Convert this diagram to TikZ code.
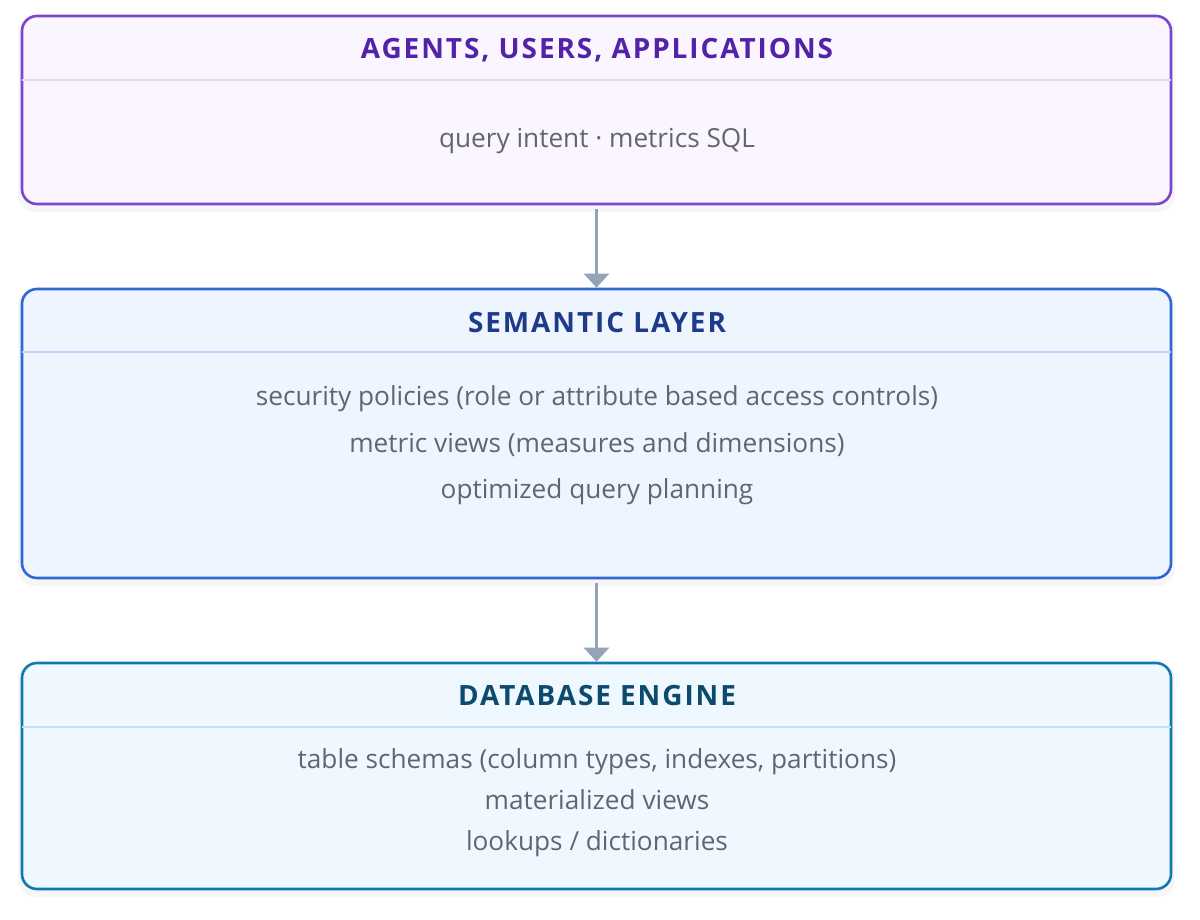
\documentclass[tikz,border=0pt]{standalone}
\usepackage{fontspec}
\setmainfont{Open Sans}
\newfontfamily\titlefont[LetterSpace=7]{Open Sans}
\usetikzlibrary{arrows.meta}
\definecolor{pBorder}{HTML}{7A45CF}
\definecolor{pFill}{HTML}{FAF5FF}
\definecolor{pTitle}{HTML}{5222A8}
\definecolor{pDiv}{HTML}{E6D6F5}
\definecolor{bBorder}{HTML}{2F67D6}
\definecolor{bFill}{HTML}{EEF5FF}
\definecolor{bTitle}{HTML}{1E3A8A}
\definecolor{bDiv}{HTML}{BDD7F5}
\definecolor{sBorder}{HTML}{1279AE}
\definecolor{sFill}{HTML}{F0F8FF}
\definecolor{sTitle}{HTML}{0C4A6E}
\definecolor{sDiv}{HTML}{BCE3F7}
\definecolor{bodyText}{HTML}{5F6673}
\definecolor{arrowCol}{HTML}{94A3B8}
\tikzset{
  layer/.style={draw=#1, line width=2.6pt, rounded corners=15pt, minimum width=1149pt, inner sep=0pt},
  shadowbox/.style={fill=black, opacity=0.035, rounded corners=17pt, minimum width=1157pt, inner sep=0pt, draw=none},
  title/.style={font=\titlefont\bfseries\fontsize{27.9}{32}\selectfont, text=#1, inner sep=0pt, anchor=base},
  body/.style={font=\fontsize{26.2}{31}\selectfont, text=bodyText, inner sep=0pt, anchor=base},
  divider/.style={draw=#1, line width=1.2pt},
  arr/.style={draw=arrowCol, line width=2.6pt, -{Triangle[width=25pt,length=14pt]}, shorten <=4pt}
}
\begin{document}
\begin{tikzpicture}[x=1pt,y=-1pt]
\useasboundingbox (0,0) rectangle (1200,920);
\fill[white] (0,0) rectangle (1200,920);
% shadows
\node[shadowbox, minimum height=196pt] (sh1) at (596.5,114) {};
\node[shadowbox, minimum height=297pt] (sh2) at (596.5,437.5) {};
\node[shadowbox, minimum height=234pt] (sh3) at (596.5,780) {};
% boxes
\node[layer=pBorder, fill=pFill, minimum height=188pt] (b1) at (596.5,110) {};
\node[layer=bBorder, fill=bFill, minimum height=289pt] (b2) at (596.5,433.5) {};
\node[layer=sBorder, fill=sFill, minimum height=226pt] (b3) at (596.5,776) {};
% dividers
\draw[divider=pDiv] ([xshift=1.3pt]b1.west |- 0,80) -- ([xshift=-1.3pt]b1.east |- 0,80);
\draw[divider=bDiv] ([xshift=1.3pt]b2.west |- 0,352) -- ([xshift=-1.3pt]b2.east |- 0,352);
\draw[divider=sDiv] ([xshift=1.3pt]b3.west |- 0,727) -- ([xshift=-1.3pt]b3.east |- 0,727);
% titles
\node[title=pTitle] (t1) at (597,59) {AGENTS, USERS, APPLICATIONS};
\node[title=bTitle] (t2) at (597,332) {SEMANTIC LAYER};
\node[title=sTitle] (t3) at (597,705) {DATABASE ENGINE};
% body text
\node[body] (l11) at (597,148) {query intent · metrics SQL};
\node[body] (l21) at (597,405.5) {security policies (role or attribute based access controls)};
\node[body] (l22) at (597,452) {metric views (measures and dimensions)};
\node[body] (l23) at (597,498.5) {optimized query planning};
\node[body] (l31) at (597,768.5) {table schemas (column types, indexes, partitions)};
\node[body] (l32) at (597,809.5) {materialized views};
\node[body] (l33) at (597,850.5) {lookups / dictionaries};
% arrows
\draw[arr] (b1.south) -- (b2.north);
\draw[arr] (b2.south) -- (b3.north);
\end{tikzpicture}
\end{document}
